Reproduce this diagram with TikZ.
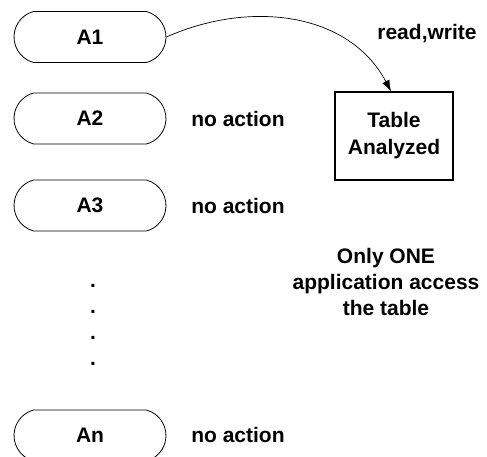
\documentclass[tikz,border=0pt]{standalone}
\usepackage{fontspec}
\setmainfont{Liberation Sans}
\usetikzlibrary{shapes.misc,arrows.meta}
\tikzset{
  pill/.style={draw, line width=0.8pt, rounded rectangle, rounded rectangle arc length=150,
    minimum width=152pt, minimum height=51pt, inner sep=0pt, font=\fontsize{21}{26}\selectfont\bfseries},
  lbl/.style={font=\fontsize{21}{26}\selectfont\bfseries, inner sep=0pt, align=center},
  tablebox/.style={draw, line width=1.6pt, minimum width=118pt, minimum height=88pt, inner sep=0pt,
    align=center, font=\fontsize{21}{27}\selectfont\bfseries}
}
\begin{document}
\begin{tikzpicture}[x=1pt,y=-1pt]
\useasboundingbox (0,0) rectangle (487,456);
\clip (0,0) rectangle (487,456);
\node[pill] (a1) at (90,37) {A1};
\node[pill] (a2) at (90,118.5) {A2};
\node[pill] (a3) at (90,205.5) {A3};
\node[pill] (an) at (90,435.5) {An};
\node[lbl] (na2) at (238,119) {no action};
\node[lbl] (na3) at (238,206) {no action};
\node[lbl] (nan) at (238,435) {no action};
\node[lbl] (rw) at (427,34) {read,write};
\node[tablebox] (tbl) at (394,136) {Table\\Analyzed};
\node[lbl] (note) at (386,282) {Only ONE\\application access\\the table};
\node[lbl, anchor=base] (d1) at (93,287.5) {.};
\node[lbl, anchor=base] (d2) at (93,313.5) {.};
\node[lbl, anchor=base] (d3) at (93,339.5) {.};
\node[lbl, anchor=base] (d4) at (93,365.5) {.};
\draw[line width=0.7pt, -{Latex[length=11pt,width=8pt]}] (a1.east) to[out=24,in=118] ([xshift=-3pt]tbl.north);
\end{tikzpicture}
\end{document}
